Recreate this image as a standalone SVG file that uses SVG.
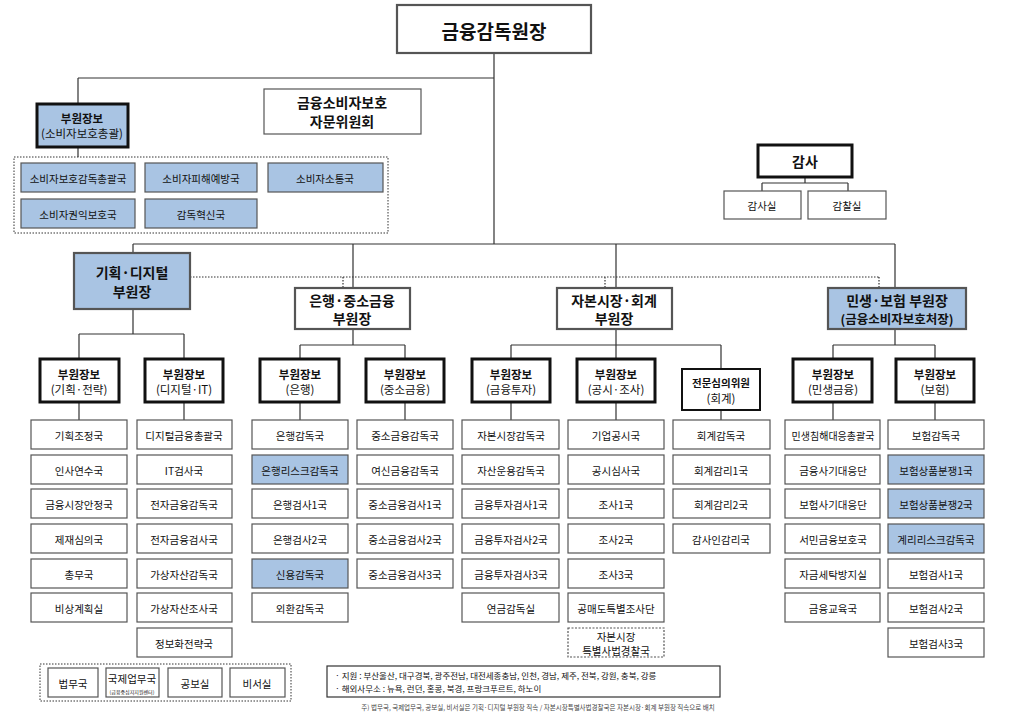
<svg xmlns="http://www.w3.org/2000/svg" width="1023" height="724" viewBox="0 0 1023 724">
<style>
text{font-family:"Noto Sans CJK KR","Noto Sans",sans-serif;fill:#111;text-anchor:middle;dominant-baseline:central}
.leaf rect{fill:#fff;stroke:#555;stroke-width:1.2}
.leaf text{font-size:10.5px}
.blue rect{fill:#a9c4e3}
.thick rect{fill:#fff;stroke:#111;stroke-width:3}
.thick text{font-weight:bold;font-size:11.5px}
.sub{font-weight:normal !important;font-size:10px}
.vp rect{stroke:#555;stroke-width:2.2;fill:#fff}
.vp text{font-weight:bold;font-size:14px}
.ln line,.ln path{stroke:#333;stroke-width:1.2;fill:none}
.dot{stroke:#333;stroke-width:1;stroke-dasharray:1.5 1.5;fill:none}
</style>
<g class="ln" id="connectors">
<path d="M494 53V244M78 78H494M78 78V104M78 147V157"/>
<path d="M133 244H895M133 244V253M353 244V288M616 244V288M895 244V288"/>
<path d="M133 309V334M79 334H184M79 334V359M184 334V359"/>
<path d="M353 329V345M300 345H405M300 345V359M405 345V359"/>
<path d="M616 329V345M511 345H721M511 345V359M616 345V359M721 345V369"/>
<path d="M895 329V345M833 345H935M833 345V359M935 345V359"/>
<path d="M79 402V420M184 402V420M300 402V420M405 402V420M511 402V420M616 402V420M721 410V420M833 402V420M935 402V420"/>
<path d="M805 177V183M762 183H848M762 183V191M848 183V191"/>
<path class="dot" d="M190 277H879M343 277V288M605 277V288M879 277V288"/>
</g>
<g id="head" class="vp"><rect x="397" y="5" width="194" height="48"/><text x="494" y="30" style="font-size:19px">금융감독원장</text></g>
<g id="advisory" class="vp"><rect x="264" y="89" width="157" height="45" style="stroke-width:1.2"/><text x="342" y="102">금융소비자보호</text><text x="342" y="121">자문위원회</text></g>
<g id="audit" class="thick"><rect x="758" y="145" width="94" height="32"/><text x="805" y="161" style="font-size:14px">감사</text></g>
<g class="leaf"><g id="a1"><rect x="724" y="191" width="77" height="28"/><text x="762" y="205">감사실</text></g><g id="a2"><rect x="808" y="191" width="78" height="28"/><text x="847" y="205">감찰실</text></g></g>
<g id="cons" class="thick blue"><rect x="37" y="104" width="91" height="43" style="fill:#a9c4e3"/><text x="82" y="118">부원장보</text><text x="82" y="133" class="sub">(소비자보호총괄)</text></g>
<rect x="14" y="157" width="374" height="76" class="dot"/>
<g class="leaf blue">
<g id="c1"><rect x="21" y="163" width="114" height="29"/><text x="78" y="178">소비자보호감독총괄국</text></g>
<g id="c2"><rect x="145" y="163" width="112" height="29"/><text x="201" y="178">소비자피해예방국</text></g>
<g id="c3"><rect x="268" y="163" width="115" height="29"/><text x="325" y="178">소비자소통국</text></g>
<g id="c4"><rect x="21" y="199" width="114" height="29"/><text x="78" y="214">소비자권익보호국</text></g>
<g id="c5"><rect x="145" y="199" width="112" height="29"/><text x="201" y="214">감독혁신국</text></g>
</g>
<g id="vp1" class="vp blue"><rect x="74" y="253" width="116" height="56" style="fill:#a9c4e3"/><text x="132" y="272">기획·디지털</text><text x="132" y="291">부원장</text></g>
<g id="vp2" class="vp"><rect x="295" y="288" width="115" height="41"/><text x="352" y="300">은행·중소금융</text><text x="352" y="318">부원장</text></g>
<g id="vp3" class="vp"><rect x="557" y="288" width="115" height="41"/><text x="614" y="300">자본시장·회계</text><text x="614" y="318">부원장</text></g>
<g id="vp4" class="vp blue"><rect x="828" y="288" width="138" height="41" style="fill:#a9c4e3"/><text x="897" y="300">민생·보험 부원장</text><text x="897" y="318" style="font-size:12.5px">(금융소비자보호처장)</text></g>
<g class="thick">
<g id="d1"><rect x="40" y="359" width="79" height="43"/><text x="79" y="374">부원장보</text><text x="79" y="389" class="sub">(기획·전략)</text></g>
<g id="d2"><rect x="145" y="359" width="78" height="43"/><text x="184" y="374">부원장보</text><text x="184" y="389" class="sub">(디지털·IT)</text></g>
<g id="d3"><rect x="260" y="359" width="79" height="43"/><text x="300" y="374">부원장보</text><text x="300" y="389" class="sub">(은행)</text></g>
<g id="d4"><rect x="366" y="359" width="78" height="43"/><text x="405" y="374">부원장보</text><text x="405" y="389" class="sub">(중소금융)</text></g>
<g id="d5"><rect x="472" y="359" width="78" height="43"/><text x="511" y="374">부원장보</text><text x="511" y="389" class="sub">(금융투자)</text></g>
<g id="d6"><rect x="577" y="359" width="78" height="43"/><text x="616" y="374">부원장보</text><text x="616" y="389" class="sub">(공시·조사)</text></g>
<g id="d7"><rect x="682" y="369" width="78" height="41" style="stroke-width:2"/><text x="721" y="382" style="font-size:10.5px">전문심의위원</text><text x="721" y="398" class="sub">(회계)</text></g>
<g id="d8"><rect x="793" y="359" width="79" height="43"/><text x="833" y="374">부원장보</text><text x="833" y="389" class="sub">(민생금융)</text></g>
<g id="d9"><rect x="896" y="359" width="78" height="43"/><text x="935" y="374">부원장보</text><text x="935" y="389" class="sub">(보험)</text></g>
</g>
<g class="leaf">
<g id="l1a"><rect x="31" y="420" width="96" height="29"/><text x="79" y="435">기획조정국</text></g>
<g id="l1b"><rect x="31" y="455" width="96" height="29"/><text x="79" y="470">인사연수국</text></g>
<g id="l1c"><rect x="31" y="489" width="96" height="29"/><text x="79" y="504">금융시장안정국</text></g>
<g id="l1d"><rect x="31" y="524" width="96" height="29"/><text x="79" y="539">제재심의국</text></g>
<g id="l1e"><rect x="31" y="559" width="96" height="29"/><text x="79" y="574">총무국</text></g>
<g id="l1f"><rect x="31" y="593" width="96" height="29"/><text x="79" y="608">비상계획실</text></g>
<g id="l2a"><rect x="137" y="420" width="95" height="29"/><text x="184" y="435">디지털금융총괄국</text></g>
<g id="l2b"><rect x="137" y="455" width="95" height="29"/><text x="184" y="470">IT검사국</text></g>
<g id="l2c"><rect x="137" y="489" width="95" height="29"/><text x="184" y="504">전자금융감독국</text></g>
<g id="l2d"><rect x="137" y="524" width="95" height="29"/><text x="184" y="539">전자금융검사국</text></g>
<g id="l2e"><rect x="137" y="559" width="95" height="29"/><text x="184" y="574">가상자산감독국</text></g>
<g id="l2f"><rect x="137" y="593" width="95" height="29"/><text x="184" y="608">가상자산조사국</text></g>
<g id="l2g"><rect x="137" y="628" width="95" height="29"/><text x="184" y="643">정보화전략국</text></g>
<g id="l3a"><rect x="252" y="420" width="96" height="29"/><text x="300" y="435">은행감독국</text></g>
<g id="l3b" class="blue"><rect x="252" y="455" width="96" height="29"/><text x="300" y="470">은행리스크감독국</text></g>
<g id="l3c"><rect x="252" y="489" width="96" height="29"/><text x="300" y="504">은행검사1국</text></g>
<g id="l3d"><rect x="252" y="524" width="96" height="29"/><text x="300" y="539">은행검사2국</text></g>
<g id="l3e" class="blue"><rect x="252" y="559" width="96" height="29"/><text x="300" y="574">신용감독국</text></g>
<g id="l3f"><rect x="252" y="593" width="96" height="29"/><text x="300" y="608">외환감독국</text></g>
<g id="l4a"><rect x="357" y="420" width="96" height="29"/><text x="405" y="435">중소금융감독국</text></g>
<g id="l4b"><rect x="357" y="455" width="96" height="29"/><text x="405" y="470">여신금융감독국</text></g>
<g id="l4c"><rect x="357" y="489" width="96" height="29"/><text x="405" y="504">중소금융검사1국</text></g>
<g id="l4d"><rect x="357" y="524" width="96" height="29"/><text x="405" y="539">중소금융검사2국</text></g>
<g id="l4e"><rect x="357" y="559" width="96" height="29"/><text x="405" y="574">중소금융검사3국</text></g>
<g id="l5a"><rect x="462" y="420" width="97" height="29"/><text x="511" y="435">자본시장감독국</text></g>
<g id="l5b"><rect x="462" y="455" width="97" height="29"/><text x="511" y="470">자산운용감독국</text></g>
<g id="l5c"><rect x="462" y="489" width="97" height="29"/><text x="511" y="504">금융투자검사1국</text></g>
<g id="l5d"><rect x="462" y="524" width="97" height="29"/><text x="511" y="539">금융투자검사2국</text></g>
<g id="l5e"><rect x="462" y="559" width="97" height="29"/><text x="511" y="574">금융투자검사3국</text></g>
<g id="l5f"><rect x="462" y="593" width="97" height="29"/><text x="511" y="608">연금감독실</text></g>
<g id="l6a"><rect x="568" y="420" width="96" height="29"/><text x="616" y="435">기업공시국</text></g>
<g id="l6b"><rect x="568" y="455" width="96" height="29"/><text x="616" y="470">공시심사국</text></g>
<g id="l6c"><rect x="568" y="489" width="96" height="29"/><text x="616" y="504">조사1국</text></g>
<g id="l6d"><rect x="568" y="524" width="96" height="29"/><text x="616" y="539">조사2국</text></g>
<g id="l6e"><rect x="568" y="559" width="96" height="29"/><text x="616" y="574">조사3국</text></g>
<g id="l6f"><rect x="568" y="593" width="96" height="29"/><text x="616" y="608">공매도특별조사단</text></g>
<g id="l6g"><rect x="568" y="628" width="96" height="29" style="stroke-dasharray:2 1.5"/><text x="616" y="636">자본시장</text><text x="616" y="650">특별사법경찰국</text></g>
<g id="l7a"><rect x="673" y="420" width="97" height="29"/><text x="721" y="435">회계감독국</text></g>
<g id="l7b"><rect x="673" y="455" width="97" height="29"/><text x="721" y="470">회계감리1국</text></g>
<g id="l7c"><rect x="673" y="489" width="97" height="29"/><text x="721" y="504">회계감리2국</text></g>
<g id="l7d"><rect x="673" y="524" width="97" height="29"/><text x="721" y="539">감사인감리국</text></g>
<g id="l8a"><rect x="785" y="420" width="95" height="29"/><text x="833" y="435" style="font-size:10px">민생침해대응총괄국</text></g>
<g id="l8b"><rect x="785" y="455" width="95" height="29"/><text x="833" y="470">금융사기대응단</text></g>
<g id="l8c"><rect x="785" y="489" width="95" height="29"/><text x="833" y="504">보험사기대응단</text></g>
<g id="l8d"><rect x="785" y="524" width="95" height="29"/><text x="833" y="539">서민금융보호국</text></g>
<g id="l8e"><rect x="785" y="559" width="95" height="29"/><text x="833" y="574">자금세탁방지실</text></g>
<g id="l8f"><rect x="785" y="593" width="95" height="29"/><text x="833" y="608">금융교육국</text></g>
<g id="l9a"><rect x="888" y="420" width="96" height="29"/><text x="936" y="435">보험감독국</text></g>
<g id="l9b" class="blue"><rect x="888" y="455" width="96" height="29"/><text x="936" y="470">보험상품분쟁1국</text></g>
<g id="l9c" class="blue"><rect x="888" y="489" width="96" height="29"/><text x="936" y="504">보험상품분쟁2국</text></g>
<g id="l9d" class="blue"><rect x="888" y="524" width="96" height="29"/><text x="936" y="539">계리리스크감독국</text></g>
<g id="l9e"><rect x="888" y="559" width="96" height="29"/><text x="936" y="574">보험검사1국</text></g>
<g id="l9f"><rect x="888" y="593" width="96" height="29"/><text x="936" y="608">보험검사2국</text></g>
<g id="l9g"><rect x="888" y="628" width="96" height="29"/><text x="936" y="643">보험검사3국</text></g>
</g>
<rect x="40" y="664" width="251" height="37" class="dot"/>
<g class="leaf">
<g id="b1"><rect x="48" y="668" width="50" height="29"/><text x="73" y="683">법무국</text></g>
<g id="b2"><rect x="106" y="668" width="53" height="29"/><text x="132" y="678">국제업무국</text><text x="132" y="691" style="font-size:5px">(금융중심지지원센터)</text></g>
<g id="b3"><rect x="168" y="668" width="54" height="29"/><text x="195" y="683">공보실</text></g>
<g id="b4"><rect x="230" y="668" width="55" height="29"/><text x="257" y="683">비서실</text></g>
</g>
<g id="info"><rect x="327" y="666" width="393" height="31" fill="#fff" stroke="#333" stroke-width="1.2"/>
<text x="335" y="675" style="text-anchor:start;font-size:8.5px">· 지원 : 부산울산, 대구경북, 광주전남, 대전세종충남, 인천, 경남, 제주, 전북, 강원, 충북, 강릉</text>
<text x="335" y="688" style="text-anchor:start;font-size:8.5px">· 해외사무소 :  뉴욕, 런던, 홍콩, 북경, 프랑크푸르트, 하노이</text></g>
<text x="538" y="707" style="font-size:6.5px;fill:#444">주) 법무국, 국제업무국, 공보실, 비서실은 기획·디지털 부원장 직속 / 자본시장특별사법경찰국은 자본시장·회계 부원장 직속으로 배치</text>
</svg>
